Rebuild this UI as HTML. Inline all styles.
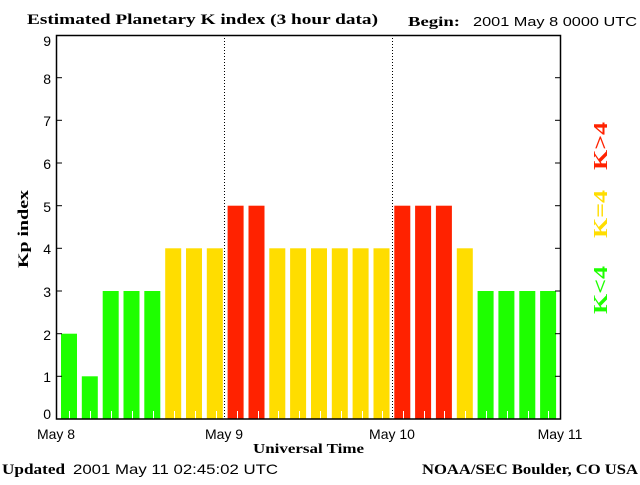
<!DOCTYPE html>
<html><head><style>
body{margin:0;background:#fff;}
.n{font-family:"Liberation Sans",sans-serif;}
.s{font-family:"Liberation Serif",serif;font-weight:bold;}
</style></head><body>
<svg width="640" height="480" xmlns="http://www.w3.org/2000/svg">
<rect width="640" height="480" fill="#fff"/>
<text x="27" y="24" class="s" font-size="15" textLength="351" lengthAdjust="spacingAndGlyphs">Estimated Planetary K index (3 hour data)</text>
<text x="408" y="26" class="s" font-size="14" textLength="52" lengthAdjust="spacingAndGlyphs">Begin:</text>
<text x="473" y="26" class="n" font-size="13" textLength="164" lengthAdjust="spacingAndGlyphs">2001 May 8 0000 UTC</text>
<g>
<rect x="61" y="333.7" width="16" height="85.3" fill="#1eff00"/>
<rect x="81.8" y="376.3" width="16" height="42.7" fill="#1eff00"/>
<rect x="102.7" y="291" width="16" height="128" fill="#1eff00"/>
<rect x="123.5" y="291" width="16" height="128" fill="#1eff00"/>
<rect x="144.3" y="291" width="16" height="128" fill="#1eff00"/>
<rect x="165.2" y="248.3" width="16" height="170.7" fill="#ffdd00"/>
<rect x="186" y="248.3" width="16" height="170.7" fill="#ffdd00"/>
<rect x="206.8" y="248.3" width="16" height="170.7" fill="#ffdd00"/>
<rect x="227.6" y="205.7" width="16" height="213.3" fill="#ff2200"/>
<rect x="248.5" y="205.7" width="16" height="213.3" fill="#ff2200"/>
<rect x="269.3" y="248.3" width="16" height="170.7" fill="#ffdd00"/>
<rect x="290.1" y="248.3" width="16" height="170.7" fill="#ffdd00"/>
<rect x="311" y="248.3" width="16" height="170.7" fill="#ffdd00"/>
<rect x="331.8" y="248.3" width="16" height="170.7" fill="#ffdd00"/>
<rect x="352.6" y="248.3" width="16" height="170.7" fill="#ffdd00"/>
<rect x="373.5" y="248.3" width="16" height="170.7" fill="#ffdd00"/>
<rect x="394.3" y="205.7" width="16" height="213.3" fill="#ff2200"/>
<rect x="415.1" y="205.7" width="16" height="213.3" fill="#ff2200"/>
<rect x="435.9" y="205.7" width="16" height="213.3" fill="#ff2200"/>
<rect x="456.8" y="248.3" width="16" height="170.7" fill="#ffdd00"/>
<rect x="477.6" y="291" width="16" height="128" fill="#1eff00"/>
<rect x="498.4" y="291" width="16" height="128" fill="#1eff00"/>
<rect x="519.3" y="291" width="16" height="128" fill="#1eff00"/>
<rect x="540.1" y="291" width="16" height="128" fill="#1eff00"/>
</g>
<path stroke="#fff" stroke-width="1" d="M69.5 411V419M90.5 411V419M111.5 411V419M132.5 411V419M153.5 411V419M174.5 411V419M195.5 411V419M216.5 411V419M237.5 411V419M258.5 411V419M278.5 411V419M299.5 411V419M320.5 411V419M341.5 411V419M362.5 411V419M382.5 411V419M403.5 411V419M424.5 411V419M444.5 411V419M465.5 411V419M486.5 411V419M507.5 411V419M528.5 411V419M548.5 411V419"/>
<line x1="224.5" y1="35" x2="224.5" y2="419" stroke="#000" stroke-dasharray="1,2"/>
<line x1="392.5" y1="35" x2="392.5" y2="419" stroke="#000" stroke-dasharray="1,2"/>
<rect x="56.5" y="35.5" width="504" height="383.5" fill="none" stroke="#000" stroke-width="1.5"/>
<g stroke="#000">
<line x1="56" y1="376.3" x2="62" y2="376.3"/><line x1="56" y1="333.7" x2="62" y2="333.7"/><line x1="56" y1="291" x2="62" y2="291"/><line x1="56" y1="248.3" x2="62" y2="248.3"/><line x1="56" y1="205.7" x2="62" y2="205.7"/><line x1="56" y1="163" x2="62" y2="163"/><line x1="56" y1="120.3" x2="62" y2="120.3"/><line x1="56" y1="77.7" x2="62" y2="77.7"/>
<line x1="555" y1="376.3" x2="560" y2="376.3"/><line x1="555" y1="333.7" x2="560" y2="333.7"/><line x1="555" y1="291" x2="560" y2="291"/><line x1="555" y1="248.3" x2="560" y2="248.3"/><line x1="555" y1="205.7" x2="560" y2="205.7"/><line x1="555" y1="163" x2="560" y2="163"/><line x1="555" y1="120.3" x2="560" y2="120.3"/><line x1="555" y1="77.7" x2="560" y2="77.7"/>
</g>
<g class="n" font-size="14" text-anchor="end">
<text x="51" y="419">0</text><text x="51" y="382">1</text><text x="51" y="340">2</text><text x="51" y="297">3</text><text x="51" y="254">4</text><text x="51" y="212">5</text><text x="51" y="169">6</text><text x="51" y="126">7</text><text x="51" y="84">8</text><text x="51" y="46">9</text>
</g>
<g class="n" font-size="14" text-anchor="middle">
<text x="56" y="439">May 8</text><text x="224" y="439">May 9</text><text x="392" y="439">May 10</text><text x="560" y="439">May 11</text>
</g>
<text x="253" y="453" class="s" font-size="14" textLength="111" lengthAdjust="spacingAndGlyphs">Universal Time</text>
<text transform="translate(28,268) rotate(-90)" class="s" font-size="15" textLength="78" lengthAdjust="spacingAndGlyphs">Kp index</text>
<text transform="translate(607,170) rotate(-90)" class="s" font-size="20" fill="#ff2200" textLength="48" lengthAdjust="spacingAndGlyphs">K&gt;4</text>
<text transform="translate(607,238) rotate(-90)" class="s" font-size="20" fill="#ffdd00" textLength="48" lengthAdjust="spacingAndGlyphs">K=4</text>
<text transform="translate(607,314) rotate(-90)" class="s" font-size="20" fill="#1eff00" textLength="48" lengthAdjust="spacingAndGlyphs">K&lt;4</text>
<text x="2" y="474" class="s" font-size="15" textLength="63" lengthAdjust="spacingAndGlyphs">Updated</text>
<text x="73" y="474" class="n" font-size="14" textLength="205" lengthAdjust="spacingAndGlyphs">2001 May 11 02:45:02 UTC</text>
<text x="422" y="474" class="s" font-size="15" textLength="216" lengthAdjust="spacingAndGlyphs">NOAA/SEC Boulder, CO USA</text>
</svg>
</body></html>
